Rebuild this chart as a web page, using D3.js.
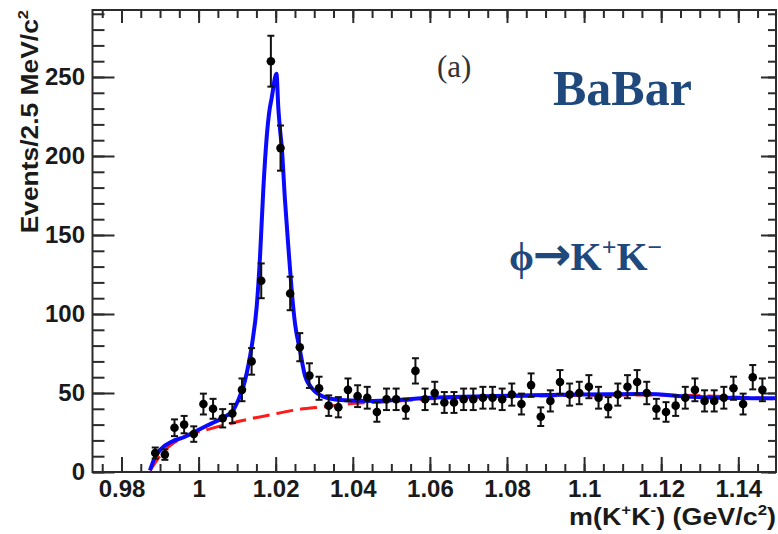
<!DOCTYPE html>
<html><head><meta charset="utf-8">
<script src="https://cdn.jsdelivr.net/npm/d3@7"></script>
<style>html,body{margin:0;padding:0;background:#fff;} svg{display:block;}</style>
</head><body><svg id="c" width="778" height="534"></svg>
<script>
// ---- data ----
const massBins = [0.98875,0.99125,0.99375,0.99625,0.99875,1.00125,1.00375,1.00625,1.00875,1.01125,
  1.01375,1.01625,1.01875,1.02125,1.02375,1.02625,1.02875,1.03125,1.03375,1.03625,
  1.03875,1.04125,1.04375,1.04625,1.04875,1.05125,1.05375,1.05625,1.05875,1.06125,
  1.06375,1.06625,1.06875,1.07125,1.07375,1.07625,1.07875,1.08125,1.08375,1.08625,
  1.08875,1.09125,1.09375,1.09625,1.09875,1.10125,1.10375,1.10625,1.10875,1.11125,
  1.11375,1.11625,1.11875,1.12125,1.12375,1.12625,1.12875,1.13125,1.13375,1.13625,
  1.13875,1.14125,1.14375,1.14625];
const events = [12,11,28,30,24,43,40,34,37,52,
  70,121,260,205,113,79,61,53,42,41,
  52,48,47,38,46,46,40,64,46,50,
  44,44,46,46,47,47,46,49,43,55,
  35,45,57,49,50,54,47,41,49,54,
  57,50,40,38,42,47,52,45,45,47,
  53,43,60,52];
const eventErrors = [3.5,3.3,5.3,5.5,4.9,6.6,6.3,5.8,6.1,7.2,
  8.4,11,16.1,14.3,10.6,8.9,7.8,7.3,6.5,6.4,
  7.2,6.9,6.9,6.2,6.8,6.8,6.3,8,6.8,7.1,
  6.6,6.6,6.8,6.8,6.9,6.9,6.8,7,6.6,7.4,
  5.9,6.7,7.5,7,7.1,7.3,6.9,6.4,7,7.3,
  7.5,7.1,6.3,6.2,6.5,6.9,7.2,6.7,6.7,6.9,
  7.3,6.6,7.7,7.2];
const fitMass = [0.98739,0.98869,0.99043,0.99302,0.99647,0.99992,1.00340,1.00685,1.00900,1.01030,
  1.01160,1.01248,1.01333,1.01393,1.01507,1.01593,1.01678,1.01767,1.01839,1.01891,
  1.02021,1.02067,1.02112,1.02156,1.02241,1.02327,1.02415,1.02501,1.02630,1.02760,
  1.02975,1.03235,1.03667,1.04532,1.06000,1.08599,1.11624,1.12747,1.14978];
const fitTotal = [1,9.5,15,19.2,22.3,26.6,30.8,35,39.2,45.6,
  54,62.5,73,82,104.6,136,178.5,212,229,236,
  252,231,217,206,172,143,115,94,77,61,
  52,47.7,45.6,45,47,48.5,49.3,47.7,46.6];
const bkgMass = [0.98739,0.99128,0.99473,1.00340,1.01204,1.02067,1.02501,1.03235,1.04101,1.04965,
  1.06000,1.08599,1.11624,1.14978];
const bkgValues = [1,13.9,20.3,27.6,32.9,37.2,39.2,41.3,43.5,44.5,
  46.3,48,48.8,46.3];
const xTickValues = [0.98,1.00,1.02,1.04,1.06,1.08,1.10,1.12,1.14];
const xTickLabels = ["0.98","1","1.02","1.04","1.06","1.08","1.1","1.12","1.14"];
const yTickValues = [0,50,100,150,200,250];
const yTickLabels = ["0","50","100","150","200","250"];

// ---- layout ----
const L = 92.5, R = 776, T = 10, B = 472;
const svg = d3.select("#c");
const x = d3.scaleLinear().domain([0.97248, 1.14978]).range([L, R]);
const y = d3.scaleLinear().domain([0, 292.4]).range([B, T]);
const xMinor = d3.range(0, 35).map(i => 0.975 + i * 0.005).filter(v => v < 1.1497);
const yMinor = d3.range(0, 30).map(i => i * 10);
const axisColor = "#2b2b2b";
const font = "'Liberation Sans', Arial, Helvetica, sans-serif";

function styleAxis(g) {
  g.select(".domain").remove();
  g.selectAll(".tick line").attr("stroke", axisColor).attr("stroke-width", 2);
  g.selectAll(".tick text").attr("fill", "#1a1a1a").attr("font-family", font)
    .attr("font-size", 24).attr("font-weight", "bold");
}
// bottom
svg.append("g").attr("transform", `translate(0,${B})`)
  .call(d3.axisBottom(x).tickValues(xMinor).tickSizeInner(-8).tickSizeOuter(0).tickFormat(""))
  .call(styleAxis);
svg.append("g").attr("transform", `translate(0,${B})`)
  .call(d3.axisBottom(x).tickValues(xTickValues).tickSizeInner(-15).tickSizeOuter(0).tickPadding(8)
    .tickFormat((d, i) => xTickLabels[i]))
  .call(styleAxis);
// top
svg.append("g").attr("transform", `translate(0,${T})`)
  .call(d3.axisTop(x).tickValues(xMinor).tickSizeInner(-8).tickSizeOuter(0).tickFormat(""))
  .call(styleAxis);
svg.append("g").attr("transform", `translate(0,${T})`)
  .call(d3.axisTop(x).tickValues(xTickValues).tickSizeInner(-13).tickSizeOuter(0).tickFormat(""))
  .call(styleAxis);
// left
svg.append("g").attr("transform", `translate(${L},0)`)
  .call(d3.axisLeft(y).tickValues(yMinor).tickSizeInner(-12).tickSizeOuter(0).tickFormat(""))
  .call(styleAxis);
svg.append("g").attr("transform", `translate(${L},0)`)
  .call(d3.axisLeft(y).tickValues(yTickValues).tickSizeInner(-22).tickSizeOuter(0).tickPadding(7.5)
    .tickFormat((d, i) => yTickLabels[i]))
  .call(styleAxis);
// right
svg.append("g").attr("transform", `translate(${R},0)`)
  .call(d3.axisRight(y).tickValues(yMinor).tickSizeInner(-8).tickSizeOuter(0).tickFormat(""))
  .call(styleAxis);
svg.append("g").attr("transform", `translate(${R},0)`)
  .call(d3.axisRight(y).tickValues(yTickValues).tickSizeInner(-15).tickSizeOuter(0).tickFormat(""))
  .call(styleAxis);

// frame
svg.append("rect").attr("x", L).attr("y", T).attr("width", R - L).attr("height", B - T)
  .attr("fill", "none").attr("stroke", axisColor).attr("stroke-width", 2);

// curves
const plot = svg.append("g");
const bkgLine = d3.line().x((d, i) => x(bkgMass[i])).y(d => y(d)).curve(d3.curveMonotoneX);
plot.append("path").attr("d", bkgLine(bkgValues)).attr("fill", "none")
  .attr("stroke", "#ff1a1a").attr("stroke-width", 3).attr("stroke-dasharray", "17,7");
const fitLine = d3.line().x((d, i) => x(fitMass[i])).y(d => y(d)).curve(d3.curveMonotoneX);
plot.append("path").attr("d", fitLine(fitTotal)).attr("fill", "none")
  .attr("stroke", "#0a0aff").attr("stroke-width", 4).attr("stroke-linejoin", "round");

// data points
const pts = plot.append("g").attr("stroke", "#111").attr("stroke-width", 2);
events.forEach((v, i) => {
  const cx = x(massBins[i]);
  const y1 = y(v + eventErrors[i]), y0 = y(v - eventErrors[i]);
  pts.append("line").attr("x1", cx).attr("x2", cx).attr("y1", y1).attr("y2", y0);
  pts.append("line").attr("x1", cx - 3.5).attr("x2", cx + 3.5).attr("y1", y1).attr("y2", y1);
  pts.append("line").attr("x1", cx - 3.5).attr("x2", cx + 3.5).attr("y1", y0).attr("y2", y0);
  pts.append("circle").attr("cx", cx).attr("cy", y(v)).attr("r", 4.3).attr("fill", "#000").attr("stroke", "none");
});

// axis titles
const xt = svg.append("text").attr("transform", "translate(776,525) scale(1.12,1)")
  .attr("text-anchor", "end").attr("font-family", font).attr("font-size", 24)
  .attr("font-weight", "bold").attr("fill", "#1a1a1a");
xt.append("tspan").text("m(K");
xt.append("tspan").attr("dy", -10).attr("font-size", 15).text("+");
xt.append("tspan").attr("dy", 10).text("K");
xt.append("tspan").attr("dy", -10).attr("font-size", 15).text("-");
xt.append("tspan").attr("dy", 10).text(") (GeV/c");
xt.append("tspan").attr("dy", -10).attr("font-size", 15).text("2");
xt.append("tspan").attr("dy", 10).text(")");

const yt = svg.append("text").attr("transform", "translate(37.5,10) rotate(-90) scale(1.1,1)")
  .attr("text-anchor", "end").attr("font-family", font).attr("font-size", 24)
  .attr("font-weight", "bold").attr("fill", "#1a1a1a");
yt.append("tspan").text("Events/2.5 MeV/c");
yt.append("tspan").attr("dy", -10).attr("font-size", 15).text("2");

// annotations
svg.append("text").attr("x", 437).attr("y", 77).attr("font-family", "'Liberation Serif','DejaVu Serif',serif")
  .attr("font-size", 31).attr("fill", "#333").text("(a)");
svg.append("text").attr("x", 553).attr("y", 105).attr("font-family", "'Liberation Serif','Times New Roman',serif")
  .attr("font-size", 50).attr("font-weight", "bold").attr("fill", "#1f497d").text("BaBar");
const ph = svg.append("text").attr("x", 509).attr("y", 270)
  .attr("font-family", "'Liberation Serif','Times New Roman',serif").attr("font-size", 40)
  .attr("font-weight", "bold").attr("fill", "#1f497d");
ph.append("tspan").text("\u03D5");
ph.append("tspan").attr("font-family", "'DejaVu Sans',sans-serif").attr("font-size", 46).attr("dx", -1).text("\u2192");
ph.append("tspan").attr("dx", -1).text("K");
ph.append("tspan").attr("dy", -14).attr("font-size", 26).text("+");
ph.append("tspan").attr("dy", 14).text("K");
ph.append("tspan").attr("dy", -14).attr("font-size", 26).text("\u2212");
</script></body></html>
